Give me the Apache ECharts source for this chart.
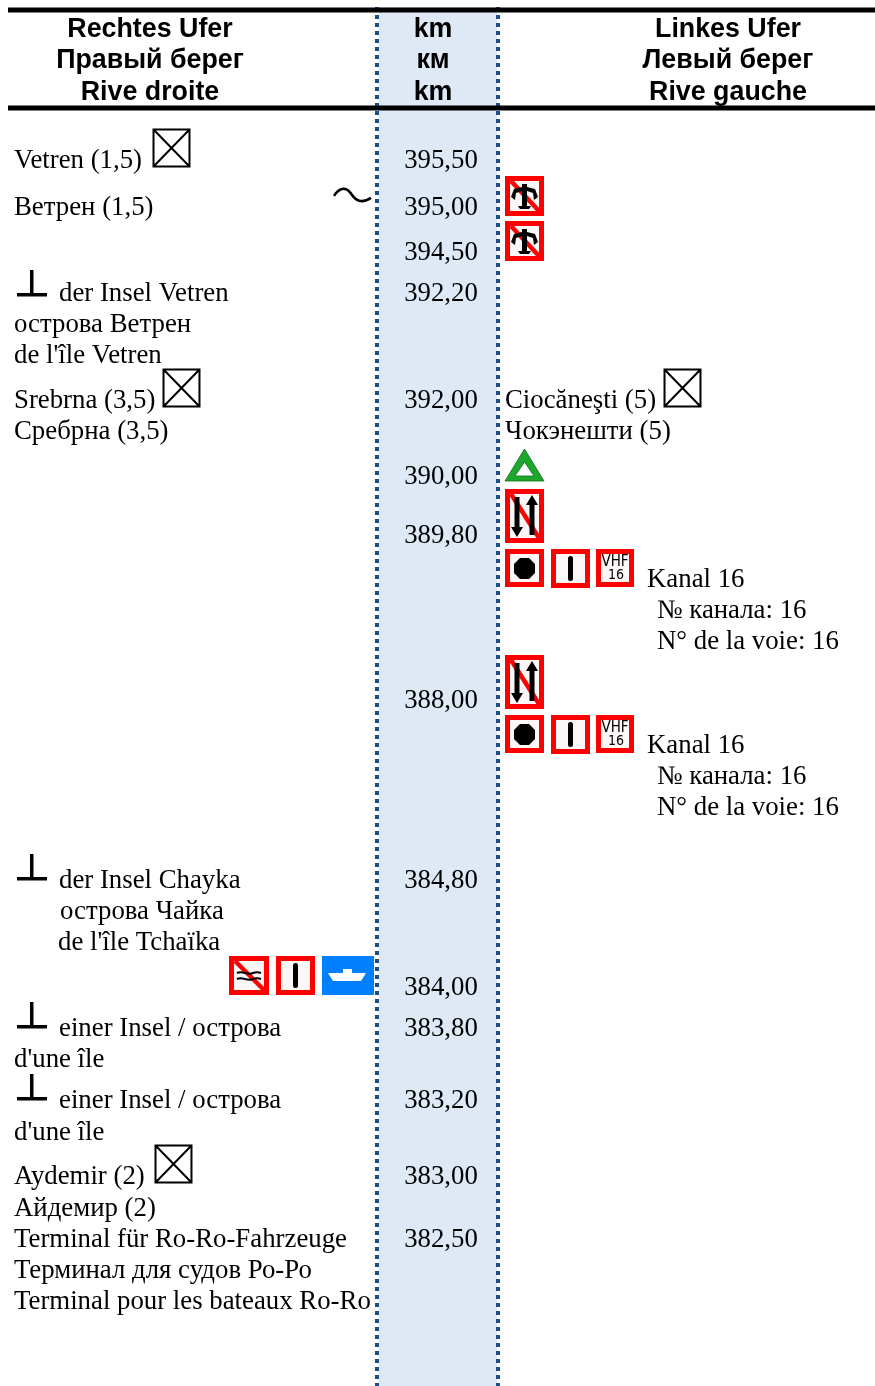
<!DOCTYPE html>
<html>
<head>
<meta charset="utf-8">
<style>html,body{margin:0;padding:0;background:#fff}#container{width:875px;height:1386px}</style>
<script src="https://cdn.jsdelivr.net/npm/echarts@6/dist/echarts.min.js"></script>
</head>
<body>
<div id="container"></div>
<script>
// table content
var headerRight = ['Rechtes Ufer', 'Правый берег', 'Rive droite'];
var headerKm = ['km', 'км', 'km'];
var headerLeft = ['Linkes Ufer', 'Левый берег', 'Rive gauche'];
var kmValues = ['395,50', '395,00', '394,50', '392,20', '392,00', '390,00', '389,80', '388,00', '384,80', '384,00', '383,80', '383,20', '383,00', '382,50'];
var rightBank = ['Vetren (1,5)', 'Ветрен (1,5)', 'der Insel Vetren', 'острова Ветрен', "de l'île Vetren", 'Srebrna (3,5)', 'Сребрна (3,5)', 'der Insel Chayka', 'острова Чайка', "de l'île Tchaïka", 'einer Insel / острова', "d'une île", 'einer Insel / острова', "d'une île", 'Aydemir (2)', 'Айдемир (2)', 'Terminal für Ro-Ro-Fahrzeuge', 'Терминал для судов Ро-Ро', 'Terminal pour les bateaux Ro-Ro'];
var leftBank = ['Ciocăneşti (5)', 'Чокэнешти (5)', 'Kanal 16', '№ канала: 16', 'N° de la voie: 16', 'Kanal 16', '№ канала: 16', 'N° de la voie: 16'];
var signKinds = ['box', 'box', 'box', 'box', 'wave', 'foot', 'foot', 'foot', 'foot', 'anchor', 'anchor', 'triangle', 'noPass', 'stop', 'bar', 'vhf', 'noPass', 'stop', 'bar', 'vhf', 'noWash', 'bar', 'ferry'];

// layout, page rows on the hidden axes
var headerY = [30, 61, 93];
var headerRightX = 150, headerKmX = 433, headerLeftX = 728;
var kmX = 441;
var kmY = [161, 208, 253, 294, 401, 477, 536, 701, 881, 988, 1029, 1101, 1177, 1240];
var rightX = [14, 14, 59, 14, 14, 14, 14, 59, 60, 58, 59, 14, 59, 14, 14, 14, 14, 14, 14];
var rightY = [161, 208, 294, 325, 356, 401, 432, 881, 912, 943, 1029, 1060, 1101, 1133, 1177, 1209, 1240, 1271, 1302];
var leftX = [505, 505, 647, 657, 657, 647, 657, 657];
var leftY = [401, 432, 580, 611, 642, 746, 777, 808];
var signX = [153, 163, 664, 155, 333, 17, 17, 17, 17, 505, 505, 505, 505, 505, 551, 596, 505, 505, 551, 596, 229, 276, 322];
var signY = [129, 369, 369, 1145, 186, 269, 853, 1001, 1073, 176, 221, 449, 489, 549, 549, 549, 655, 715, 715, 715, 956, 956, 956];

var bodyFont = '"Liberation Serif", serif';
var headFont = '"Liberation Sans", sans-serif';
var RED = '#fe0000';
var FONT_SIZE = 26.8;

function zip(xs, ys, texts, font, weight) {
    return texts.map(function (t, i) {
        return {
            value: [xs[i], ys[i]],
            label: { formatter: t, color: '#000', fontFamily: font, fontSize: FONT_SIZE, fontWeight: weight }
        };
    });
}
function textSeries(name, data, pos) {
    return {
        name: name, type: 'scatter', symbolSize: 0, silent: true, z: 5, data: data,
        itemStyle: { opacity: 1 },
        label: { show: true, position: pos, distance: 0, color: '#000', opacity: 1 }
    };
}
function constX(x, n) {
    var a = [];
    for (var i = 0; i < n; i++) a.push(x);
    return a;
}

// sign frame with red border
function frame(w, h, kids) {
    return [
        { type: 'rect', shape: { x: 0, y: 0, width: w, height: h }, style: { fill: RED } },
        { type: 'rect', shape: { x: 5, y: 5, width: w - 10, height: h - 10 }, style: { fill: '#fbf7f7' } }
    ].concat(kids);
}
function slash(w, h) {
    return { type: 'line', shape: { x1: 6, y1: 5, x2: w - 5, y2: h - 5 }, style: { stroke: RED, lineWidth: 4.5 } };
}
function drawSign(kind) {
    if (kind === 'box') {
        return [{ type: 'path', shape: { pathData: 'M1 1H36V37H1ZM1 1L36 37M36 1L1 37', x: 0.5, y: 0.5, width: 36, height: 37 }, style: { stroke: '#000', fill: 'none', lineWidth: 2 } }];
    }
    if (kind === 'wave') {
        return [{ type: 'path', shape: { pathData: 'M1 9C6 1 12 0 17 6C22 14 28 17 37 11', x: 1, y: 0, width: 37, height: 18 }, style: { stroke: '#000', fill: 'none', lineWidth: 2.6 } }];
    }
    if (kind === 'foot') {
        return [
            { type: 'rect', shape: { x: 13, y: 1, width: 3.5, height: 26 }, style: { fill: '#000' } },
            { type: 'rect', shape: { x: 0, y: 24, width: 30, height: 3.5 }, style: { fill: '#000' } }
        ];
    }
    if (kind === 'anchor') {
        return frame(39, 40, [
            slash(39, 40),
            { type: 'path', shape: { pathData: 'M17 8H22V11L30 13L33 21L29 24L28 17L22 15V30H26L24 33H15L13 30H17V15L11 17L10 24L6 21L9 13L17 11Z', x: 6, y: 8, width: 27, height: 25 }, style: { fill: '#000' } }
        ]);
    }
    if (kind === 'triangle') {
        return [{ type: 'path', shape: { pathData: 'M19.5 0L39 32H0ZM19.5 13L10 27H29Z', x: 0, y: 0, width: 39, height: 32 }, style: { fill: '#1da82c', stroke: '#0f6a1a', lineWidth: 0.8 } }];
    }
    if (kind === 'noPass') {
        return frame(39, 54, [
            slash(39, 54),
            { type: 'path', shape: { pathData: 'M9.5 8H14.5V38H18L12 48L6 38H9.5ZM24.5 46H29.5V16H33L27 6L21 16H24.5Z', x: 6, y: 6, width: 27, height: 42 }, style: { fill: '#000' } }
        ]);
    }
    if (kind === 'stop') {
        return frame(39, 38, [{ type: 'path', shape: { pathData: 'M15 9H24L30 15V24L24 30H15L9 24V15Z', x: 9, y: 9, width: 21, height: 21 }, style: { fill: '#000' } }]);
    }
    if (kind === 'bar') {
        return frame(39, 39, [{ type: 'rect', shape: { x: 17, y: 7, width: 5, height: 25, r: 2.5 }, style: { fill: '#000' } }]);
    }
    if (kind === 'vhf') {
        return frame(38, 38, [
            { type: 'text', style: { x: 19, y: 13, text: 'VHF', fill: '#000', font: '15px "Liberation Sans Narrow", "DejaVu Sans Condensed", sans-serif', align: 'center', verticalAlign: 'middle' } },
            { type: 'text', style: { x: 20, y: 26, text: '16', fill: '#000', font: '14px "Liberation Sans Narrow", "DejaVu Sans Condensed", sans-serif', align: 'center', verticalAlign: 'middle' } }
        ]);
    }
    if (kind === 'noWash') {
        return frame(40, 39, [
            slash(40, 39),
            { type: 'path', shape: { pathData: 'M8 17C14 14 18 20 24 17C27 16 29 16 32 17M8 23C14 20 18 26 24 23C27 22 29 22 32 23', x: 8, y: 15, width: 24, height: 10 }, style: { stroke: '#000', fill: 'none', lineWidth: 2 } }
        ]);
    }
    if (kind === 'ferry') {
        return [
            { type: 'rect', shape: { x: 0, y: 0, width: 52, height: 39 }, style: { fill: '#0080ff' } },
            { type: 'path', shape: { pathData: 'M6 17H21V13H30V17H44L39 25H11Z', x: 6, y: 13, width: 38, height: 12 }, style: { fill: '#fff' } }
        ];
    }
    return [];
}

var signData = signKinds.map(function (k, i) { return [signX[i], signY[i], i]; });

var option = {
    animation: false,
    grid: { left: 0, right: 0, top: 0, bottom: 0 },
    xAxis: { type: 'value', min: 0, max: 875, show: false },
    yAxis: { type: 'value', min: 0, max: 1386, inverse: true, show: false },
    series: [
        {
            name: 'km band', type: 'custom', silent: true, z: 1, data: [[379, 7, 497, 1386]],
            renderItem: function (params, api) {
                var a = api.coord([api.value(0), api.value(1)]);
                var b = api.coord([api.value(2), api.value(3)]);
                return { type: 'rect', shape: { x: a[0], y: a[1], width: b[0] - a[0], height: b[1] - a[1] }, style: { fill: '#dfe9f6' } };
            }
        },
        {
            name: 'km left edge', type: 'line', silent: true, symbol: 'none', z: 2, data: [[377, 7], [377, 1386]],
            lineStyle: { color: '#1f4e8c', width: 4, type: [4, 4] }
        },
        {
            name: 'km right edge', type: 'line', silent: true, symbol: 'none', z: 2, data: [[498, 7], [498, 1386]],
            lineStyle: { color: '#1f4e8c', width: 4, type: [4, 4] }
        },
        {
            name: 'top rule', type: 'line', silent: true, symbol: 'none', z: 3, data: [[8, 10], [875, 10]],
            lineStyle: { color: '#000', width: 5 }
        },
        {
            name: 'header rule', type: 'line', silent: true, symbol: 'none', z: 3, data: [[8, 108], [875, 108]],
            lineStyle: { color: '#000', width: 5 }
        },
        textSeries('header right', zip(constX(headerRightX, 3), headerY, headerRight, headFont, 'bold'), 'inside'),
        textSeries('header km', zip(constX(headerKmX, 3), headerY, headerKm, headFont, 'bold'), 'inside'),
        textSeries('header left', zip(constX(headerLeftX, 3), headerY, headerLeft, headFont, 'bold'), 'inside'),
        textSeries('km', zip(constX(kmX, kmValues.length), kmY, kmValues, bodyFont, 'normal'), 'inside'),
        textSeries('right bank', zip(rightX, rightY, rightBank, bodyFont, 'normal'), 'right'),
        textSeries('left bank', zip(leftX, leftY, leftBank, bodyFont, 'normal'), 'right'),
        {
            name: 'signs', type: 'custom', silent: true, z: 4, data: signData,
            renderItem: function (params, api) {
                var p = api.coord([api.value(0), api.value(1)]);
                return { type: 'group', x: p[0], y: p[1], children: drawSign(signKinds[api.value(2)]) };
            }
        }
    ]
};

var chart = echarts.init(document.getElementById('container'));
chart.setOption(option);
</script>
</body>
</html>
